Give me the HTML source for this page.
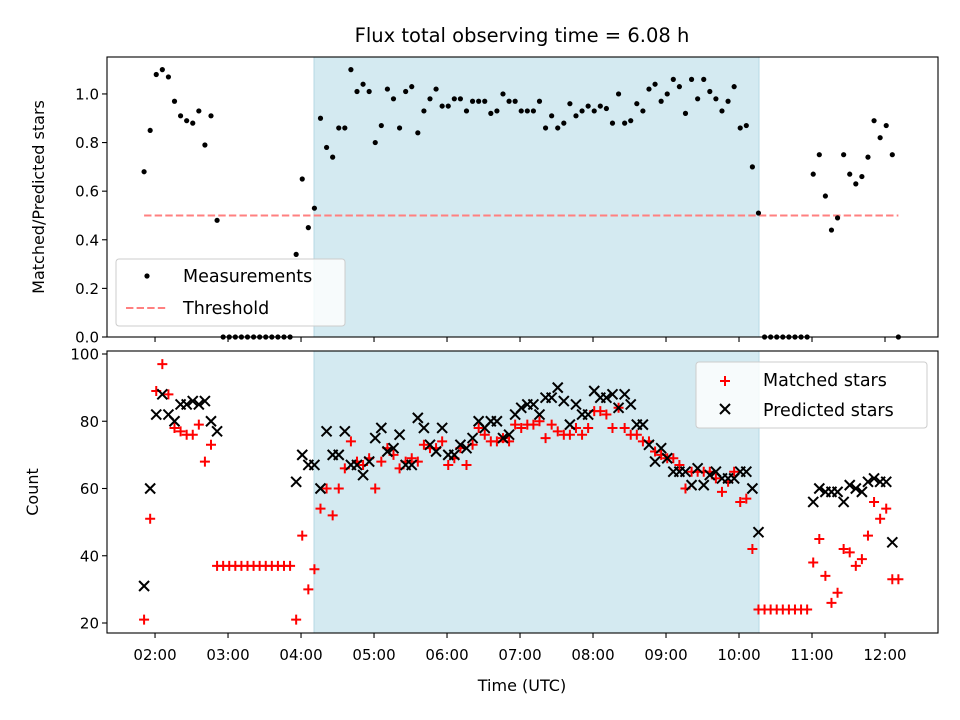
<!DOCTYPE html>
<html><head><meta charset="utf-8"><style>
body{margin:0;background:#fff;}
svg{display:block;font-family:"DejaVu Sans","Liberation Sans",sans-serif;}
</style></head><body>
<svg id="chart" width="960" height="720" viewBox="0 0 960 720" xmlns="http://www.w3.org/2000/svg"></svg>
<script>
// ---- data ----
const startMinutes = 111; // 01:51 UTC
const stepMinutes = 5;
const shadeStart = 4.178;
const shadeEnd = 10.274;
const threshold = 0.5;
const ratioValues = [0.68,0.85,1.08,1.10,1.07,0.97,0.91,0.89,0.88,0.93,0.79,0.91,0.48,
0,0,0,0,0,0,0,0,0,0,0,0,
0.34,0.65,0.45,0.53,0.90,0.78,0.74,0.86,0.86,1.10,1.01,1.04,1.01,0.80,
0.87,1.02,0.98,0.86,1.01,1.03,0.84,0.93,0.98,1.02,0.95,0.95,0.98,0.98,0.93,0.97,0.97,0.97,0.92,0.93,1.00,0.97,0.97,0.93,0.93,0.93,0.97,0.86,0.91,0.86,0.88,0.96,0.91,0.93,0.95,0.93,0.95,0.94,0.88,1.00,0.88,0.89,0.96,0.93,1.02,1.04,
0.97,1.00,1.06,1.03,0.92,1.06,0.98,1.06,1.01,0.98,0.93,0.97,1.03,0.86,0.87,0.70,0.51,
0,0,0,0,0,0,0,0,
0.67,0.75,0.58,0.44,0.49,0.75,0.67,0.63,0.66,0.74,0.89,0.82,0.87,0.75,0];
const matchedValues = [21,51,89,97,88,78,77,76,76,79,68,73,37,
37,37,37,37,37,37,37,37,37,37,37,37,
21,46,30,36,54,60,52,60,66,74,68,67,69,60,
68,72,70,66,68,69,68,73,72,72,74,67,69,72,67,73,78,76,74,74,75,
74,79,78,79,79,80,75,79,77,76,76,78,76,78,83,83,82,78,84,78,76,76,74,74,71,70,69,69,67,60,65,65,65,
65,63,59,62,65,56,57,42,24,
24,24,24,24,24,24,24,24,
38,45,34,26,29,42,41,37,39,46,56,51,54,33,33];
const predictedValues = [31,60,82,88,82,80,85,85,86,85,86,80,77,
null,null,null,null,null,null,null,null,null,null,null,null,
62,70,67,67,60,77,70,70,77,67,67,64,68,75,
78,71,72,76,67,67,81,78,73,71,78,70,70,73,72,75,80,78,80,80,75,
76,82,84,85,85,82,87,87,90,86,79,85,82,82,89,87,87,88,84,88,85,79,79,73,68,72,69,65,65,65,61,66,61,
64,65,63,63,63,65,65,60,47,
null,null,null,null,null,null,null,null,
56,60,59,59,59,56,61,60,59,62,63,62,62,44,null];
const xTickLabels = ["02:00","03:00","04:00","05:00","06:00","07:00","08:00","09:00","10:00","11:00","12:00"];
const topYTicks = [0.0,0.2,0.4,0.6,0.8,1.0];
const botYTicks = [20,40,60,80,100];

// ---- axes ----
const L=107,R=938, T1=57,B1=337, T2=351,B2=633;
const xMin=1.342, xMax=12.726;
const x = h => L + (h-xMin)/(xMax-xMin)*(R-L);
const yTop = v => B1 - v/1.152*(B1-T1);
const yBot = v => 623 - (v-20)*3.3625;
const NS="http://www.w3.org/2000/svg";
const svg=document.getElementById('chart');
function el(tag,attrs,parent){const e=document.createElementNS(NS,tag);for(const k in attrs)e.setAttribute(k,attrs[k]);(parent||svg).appendChild(e);return e;}
const timeOf = i => (startMinutes + i*stepMinutes)/60;

function panel(T,B,name){
  const g=el('g',{});
  
  
  const sh=el('rect',{x:x(shadeStart),y:T,width:x(shadeEnd)-x(shadeStart),height:B-T,fill:'#d4eaf1',stroke:'#b6d9e5','stroke-width':1},g);
  
  
  return g;
}
const gTop=panel(T1,B1,'ratio-panel');
const gBot=panel(T2,B2,'count-panel');

const th=el('line',{x1:x(timeOf(0)),x2:x(timeOf(ratioValues.length-1)),y1:yTop(threshold),y2:yTop(threshold),stroke:'#ff8080','stroke-width':2,'stroke-dasharray':'7.4,3.2'},gTop);



ratioValues.forEach((v,i)=>{
  const c=el('circle',{cx:x(timeOf(i)),cy:yTop(v),r:2.6,fill:'#000'},gTop);
  
  
});
matchedValues.forEach((v,i)=>{
  if(v==null)return;
  const cx=x(timeOf(i)),cy=yBot(v);
  const p=el('path',{d:`M${cx-5},${cy}H${cx+5}M${cx},${cy-5}V${cy+5}`,stroke:'#ff0000','stroke-width':2,fill:'none'},gBot);
  
  
});
predictedValues.forEach((v,i)=>{
  if(v==null)return;
  const cx=x(timeOf(i)),cy=yBot(v),d=5;
  const p=el('path',{d:`M${cx-d},${cy-d}L${cx+d},${cy+d}M${cx-d},${cy+d}L${cx+d},${cy-d}`,stroke:'#000','stroke-width':2,fill:'none'},gBot);
  
  
});

[[T1,B1,'ratio-frame'],[T2,B2,'count-frame']].forEach(([T,B,n])=>{
  const r=el('rect',{x:L,y:T,width:R-L,height:B-T,fill:'none',stroke:'#000','stroke-width':1.1});
  
  
  xTickLabels.forEach((lab,k)=>{
    const tx=x(2+k);
    el('line',{x1:tx,x2:tx,y1:B,y2:B+5,stroke:'#000','stroke-width':1.1});
  });
});
xTickLabels.forEach((lab,k)=>{
  const t=el('text',{x:x(2+k),y:B2+27,'font-size':15,'text-anchor':'middle'});
  t.textContent=lab;
  
  
});
topYTicks.forEach(v=>{
  const ty=yTop(v);
  el('line',{x1:L-5,x2:L,y1:ty,y2:ty,stroke:'#000','stroke-width':1.1});
  const t=el('text',{x:L-8,y:ty+5.5,'font-size':15,'text-anchor':'end'});
  t.textContent=v.toFixed(1);
  
  
});
botYTicks.forEach(v=>{
  const ty=yBot(v);
  el('line',{x1:L-5,x2:L,y1:ty,y2:ty,stroke:'#000','stroke-width':1.1});
  const t=el('text',{x:L-8,y:ty+5.5,'font-size':15,'text-anchor':'end'});
  t.textContent=String(v);
  
  
});

function txt(s,attrs,name){const t=el('text',attrs);t.textContent=s;return t;}
txt('Flux total observing time = 6.08 h',{x:522,y:42,'font-size':19.5,'text-anchor':'middle'},'chart-title');
txt('Matched/Predicted stars',{x:0,y:0,'font-size':16,'text-anchor':'middle',transform:'translate(44,197) rotate(-90)'},'top-y-axis-title');
txt('Count',{x:0,y:0,'font-size':16,'text-anchor':'middle',transform:'translate(38,492) rotate(-90)'},'bottom-y-axis-title');
txt('Time (UTC)',{x:522,y:691,'font-size':16,'text-anchor':'middle'},'x-axis-title');

const lg1=el('g',{});


el('rect',{x:116,y:259,width:229,height:67,rx:3,fill:'rgba(255,255,255,0.8)',stroke:'#ccc','stroke-width':1},lg1);
el('circle',{cx:147,cy:276,r:2.6,fill:'#000'},lg1);
el('line',{x1:126,x2:168,y1:308,y2:308,stroke:'#ff8080','stroke-width':2,'stroke-dasharray':'7.4,3.2'},lg1);
txt('Measurements',{x:183,y:282,'font-size':17.5},'legend-measurements');
txt('Threshold',{x:183,y:314,'font-size':17.5},'legend-threshold');

const lg2=el('g',{});


el('rect',{x:696,y:362,width:231,height:66,rx:3,fill:'rgba(255,255,255,0.8)',stroke:'#ccc','stroke-width':1},lg2);
el('path',{d:'M720,381H730M725,376V386',stroke:'#f00','stroke-width':2},lg2);
el('path',{d:'M720,404L730,414M720,414L730,404',stroke:'#000','stroke-width':2},lg2);
txt('Matched stars',{x:763,y:386,'font-size':17.5},'legend-matched');
txt('Predicted stars',{x:763,y:416,'font-size':17.5},'legend-predicted');
</script>
</body></html>
